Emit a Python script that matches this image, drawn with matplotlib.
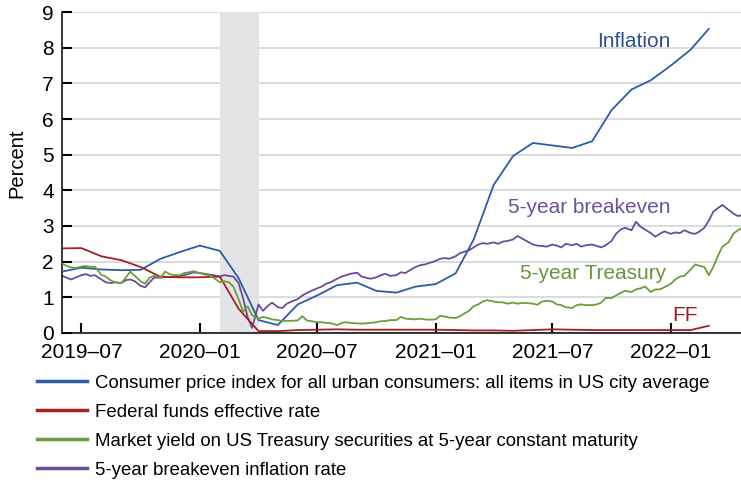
import matplotlib
matplotlib.use("Agg")
import matplotlib.pyplot as plt
import matplotlib.dates as mdates
import pandas as pd

plt.rcParams['font.family'] = ['Liberation Sans', 'DejaVu Sans']

# monthly series (first of month)
months = pd.date_range('2019-06-01', '2022-03-01', freq='MS')
cpi = [1.72, 1.83, 1.78, 1.76, 1.77, 2.08, 2.27, 2.45, 2.30, 1.54, 0.36, 0.22,
       0.80, 1.05, 1.34, 1.41, 1.18, 1.13, 1.30, 1.37, 1.67, 2.62, 4.15, 4.96,
       5.33, 5.26, 5.19, 5.38, 6.25, 6.83, 7.09, 7.50, 7.95, 8.53]
fedfunds = [2.37, 2.38, 2.15, 2.04, 1.85, 1.57, 1.56, 1.56, 1.58, 0.68, 0.05, 0.05,
            0.08, 0.09, 0.10, 0.09, 0.09, 0.09, 0.09, 0.09, 0.08, 0.07, 0.07, 0.06,
            0.08, 0.10, 0.09, 0.08, 0.08, 0.08, 0.08, 0.08, 0.08, 0.20]

# weekly-ish readings (days 1, 8, 15, 22 of each month)
week_days = [1, 8, 15, 22]
weeks = [m + pd.Timedelta(days=d - 1)
         for m in pd.date_range('2019-06-01', '2022-04-01', freq='MS') for d in week_days]
treasury5 = [
    1.95, 1.88, 1.84, 1.82,  1.86, 1.88, 1.85, 1.86,  1.63, 1.58, 1.48, 1.42,
    1.40, 1.55, 1.72, 1.60,  1.45, 1.38, 1.55, 1.60,  1.55, 1.72, 1.65, 1.62,
    1.62, 1.68, 1.70, 1.73,  1.68, 1.64, 1.62, 1.55,  1.42, 1.45, 1.42, 1.30,
    0.95, 0.60, 0.75, 0.50,  0.40, 0.45, 0.42, 0.38,  0.36, 0.33, 0.34, 0.34,
    0.35, 0.47, 0.35, 0.33,  0.30, 0.30, 0.28, 0.27,  0.22, 0.28, 0.30, 0.28,
    0.27, 0.26, 0.27, 0.28,  0.30, 0.33, 0.33, 0.36,  0.36, 0.45, 0.40, 0.39,
    0.38, 0.40, 0.38, 0.37,  0.38, 0.48, 0.46, 0.43,  0.42, 0.47, 0.55, 0.62,
    0.75, 0.80, 0.88, 0.92,  0.88, 0.86, 0.86, 0.82,  0.85, 0.82, 0.84, 0.84,
    0.82, 0.79, 0.88, 0.90,  0.88, 0.80, 0.78, 0.72,  0.70, 0.78, 0.80, 0.78,
    0.78, 0.80, 0.85, 0.98,  0.98, 1.05, 1.12, 1.18,  1.15, 1.22, 1.25, 1.30,
    1.15, 1.22, 1.22, 1.28,  1.38, 1.50, 1.58, 1.60,  1.78, 1.92, 1.88, 1.85,
    1.62, 1.85, 2.15, 2.42,  2.55, 2.78, 2.88, 2.95]
breakeven5 = [
    1.60, 1.55, 1.50, 1.55,  1.62, 1.65, 1.60, 1.62,  1.50, 1.42, 1.40, 1.42,
    1.40, 1.48, 1.50, 1.45,  1.32, 1.28, 1.42, 1.55,  1.55, 1.58, 1.56, 1.57,
    1.60, 1.62, 1.66, 1.70,  1.68, 1.66, 1.64, 1.62,  1.58, 1.62, 1.60, 1.58,
    1.40, 0.98, 0.45, 0.14,  0.80, 0.62, 0.75, 0.85,  0.72, 0.70, 0.82, 0.88,
    0.95, 1.05, 1.12, 1.18,  1.25, 1.30, 1.38, 1.42,  1.52, 1.58, 1.62, 1.66,
    1.69, 1.58, 1.55, 1.52,  1.56, 1.62, 1.66, 1.60,  1.62, 1.70, 1.68, 1.76,
    1.85, 1.90, 1.92, 1.96,  2.02, 2.08, 2.10, 2.08,  2.15, 2.24, 2.28, 2.32,
    2.40, 2.48, 2.52, 2.50,  2.54, 2.50, 2.56, 2.58,  2.62, 2.72, 2.65, 2.58,
    2.48, 2.45, 2.44, 2.42,  2.48, 2.45, 2.40, 2.50,  2.46, 2.50, 2.42, 2.46,
    2.48, 2.44, 2.40, 2.46,  2.58, 2.78, 2.90, 2.95,  2.88, 3.12, 2.98, 2.90,
    2.80, 2.70, 2.78, 2.85,  2.78, 2.82, 2.80, 2.88,  2.80, 2.78, 2.85, 2.95,
    3.15, 3.40, 3.50, 3.59,  3.45, 3.35, 3.28, 3.30]

labels = ['Consumer price index for all urban consumers: all items in US city average',
          'Federal funds effective rate',
          'Market yield on US Treasury securities at 5-year constant maturity',
          '5-year breakeven inflation rate']
colors = ['#2b5da8', '#a81f23', '#6a9e3c', '#6b4c9a']
recession = (pd.Timestamp('2020-02-01'), pd.Timestamp('2020-04-01'))

fig = plt.figure(figsize=(7.41, 4.86), dpi=100)
ax = fig.add_axes([0.0837, 0.315, 0.9163, 0.66])

ax.axvspan(recession[0], recession[1], color='#e3e4e6', lw=0, zorder=1)
l1, = ax.plot(months, cpi, color=colors[0], lw=1.3, zorder=3)
l2, = ax.plot(months, fedfunds, color=colors[1], lw=1.3, zorder=3)
l3, = ax.plot(weeks, treasury5, color=colors[2], lw=1.3, zorder=3)
l4, = ax.plot(weeks, breakeven5, color=colors[3], lw=1.3, zorder=2)

ax.text(pd.Timestamp('2021-09-08'), 8.02, 'Inflation', color='#2f4e94', fontsize=15)
ax.text(pd.Timestamp('2021-12-31'), 3.37, '5-year breakeven', color='#6e5299',
        fontsize=15, ha='right')
ax.text(pd.Timestamp('2021-12-24'), 1.50, '5-year Treasury', color='#6a9440',
        fontsize=15, ha='right')
ax.text(pd.Timestamp('2022-01-04'), 0.34, 'FF', color='#9e1b1b', fontsize=15)

ax.set_xlim(pd.Timestamp('2019-06-01'), pd.Timestamp('2022-04-20'))
ax.set_ylim(0, 9)
ax.set_yticks(range(0, 10))
ax.xaxis.set_major_locator(mdates.MonthLocator(bymonth=[1, 7]))
ax.xaxis.set_major_formatter(mdates.DateFormatter('%Y\u2013%m'))
ax.tick_params(direction='in', length=7, width=1.5, labelsize=15, pad=6)
ax.tick_params(axis='x', pad=7)
ax.grid(axis='y', color='#d4d4d4', lw=1.2, zorder=0)
ax.set_axisbelow(True)
for s in ['top', 'right']:
    ax.spines[s].set_visible(False)
for s in ['left', 'bottom']:
    ax.spines[s].set_linewidth(1.1)
ax.set_ylabel('Percent', fontsize=14.5)
ax.yaxis.set_label_coords(-0.052, 0.53)

leg = fig.legend([l1, l2, l3, l4], labels, loc='upper left',
                 bbox_to_anchor=(0.0499, 0.229), frameon=False,
                 borderpad=0, borderaxespad=0, handlelength=2.7,
                 handletextpad=0.43, labelspacing=0.64,
                 prop={'size': 13.4})
for line in leg.get_lines():
    line.set_linewidth(2.5)

fig.savefig('out.png', dpi=100)
